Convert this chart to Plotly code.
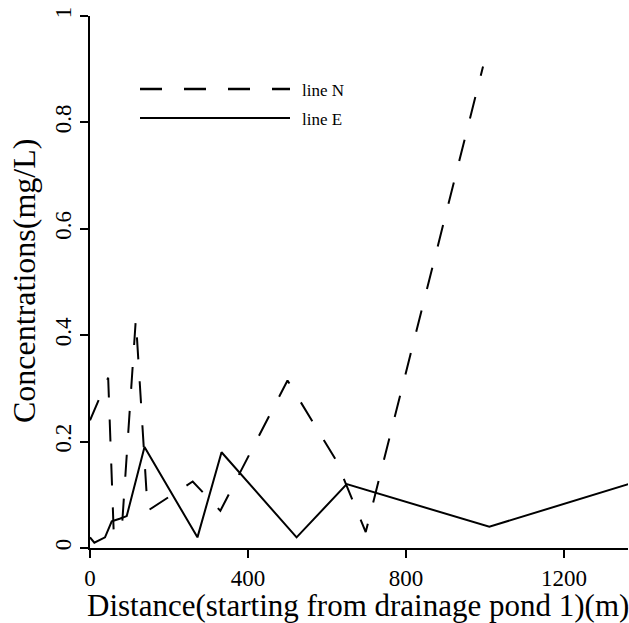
import plotly.graph_objects as go

# Line N (dashed) and line E (solid): distance (m) vs concentration (mg/L)
dist_n = [0, 46, 60, 80, 116, 146, 260, 330, 500, 623, 698, 995]
conc_n = [0.24, 0.32, 0.03, 0.03, 0.43, 0.07, 0.125, 0.07, 0.315, 0.165, 0.03, 0.905]

dist_e = [0, 11, 38, 55, 75, 93, 138, 272, 333, 523, 650, 1011, 1363]
conc_e = [0.02, 0.01, 0.02, 0.05, 0.055, 0.06, 0.19, 0.02, 0.18, 0.02, 0.12, 0.04, 0.12]

x_ticks = [0, 400, 800, 1200]
y_ticks = [0, 0.2, 0.4, 0.6, 0.8, 1]
y_tick_labels = ["0", "0.2", "0.4", "0.6", "0.8", "1"]

series_names = ["line N", "line E"]
x_title = "Distance(starting from drainage pond 1)(m)"
y_title = "Concentrations(mg/L)"

FONT = "Liberation Serif"

L, R, T, B = 90, 1, 16, 75
PW, PH = 629 - L - R, 623 - T - B


def px_x(p):
    return (p - L) / PW


def px_y(p):
    return (623 - B - p) / PH


fig = go.Figure()
fig.add_trace(go.Scatter(x=dist_n, y=conc_n, mode="lines", name=series_names[0],
                         line=dict(color="black", width=2, dash="22px,22px"),
                         showlegend=False))
fig.add_trace(go.Scatter(x=dist_e, y=conc_e, mode="lines", name=series_names[1],
                         line=dict(color="black", width=2),
                         showlegend=False))

# manual legend (long sample lines like the reference)
for i, (name, dash, yy) in enumerate([(series_names[0], "22px,22px", 89),
                                       (series_names[1], "solid", 118)]):
    fig.add_shape(type="line", xref="paper", yref="paper",
                  x0=px_x(140), x1=px_x(290), y0=px_y(yy), y1=px_y(yy),
                  line=dict(color="black", width=2.5 if i == 0 else 2, dash=dash))
    fig.add_annotation(xref="paper", yref="paper", x=px_x(300), y=px_y(yy + 1),
                       text=name, showarrow=False, xanchor="left", yanchor="middle",
                       font=dict(family=FONT, size=17, color="black"))

# axis titles
fig.add_annotation(xref="paper", yref="paper", x=px_x(358), y=px_y(605),
                   text=x_title, showarrow=False, xanchor="center", yanchor="middle",
                   font=dict(family=FONT, size=31, color="black"))
fig.add_annotation(xref="paper", yref="paper", x=px_x(24), y=px_y(281),
                   text=y_title, showarrow=False, xanchor="center", yanchor="middle",
                   textangle=-90, font=dict(family=FONT, size=32, color="black"))

fig.update_layout(
    width=629, height=623,
    margin=dict(l=L, r=R, t=T, b=B),
    paper_bgcolor="white", plot_bgcolor="white",
    font=dict(family=FONT, color="black"),
)
fig.update_xaxes(range=[0, 1362], tickvals=x_ticks, ticks="outside", ticklen=8,
                 tickwidth=2, tickcolor="black", showline=True, linewidth=2,
                 linecolor="black", showgrid=False, zeroline=False, automargin=False,
                 tickfont=dict(family=FONT, size=23, color="black"))
fig.update_yaxes(range=[0, 1], tickvals=y_ticks, ticktext=y_tick_labels,
                 ticks="outside", ticklen=8, tickwidth=2, tickcolor="black",
                 showline=True, linewidth=2, linecolor="black", showgrid=False,
                 zeroline=False, tickangle=-90, automargin=False,
                 tickfont=dict(family=FONT, size=23, color="black"))

fig.write_html("out.html", config={"displayModeBar": False},
               post_script="document.body.style.margin='0';document.body.style.overflow='hidden';")
